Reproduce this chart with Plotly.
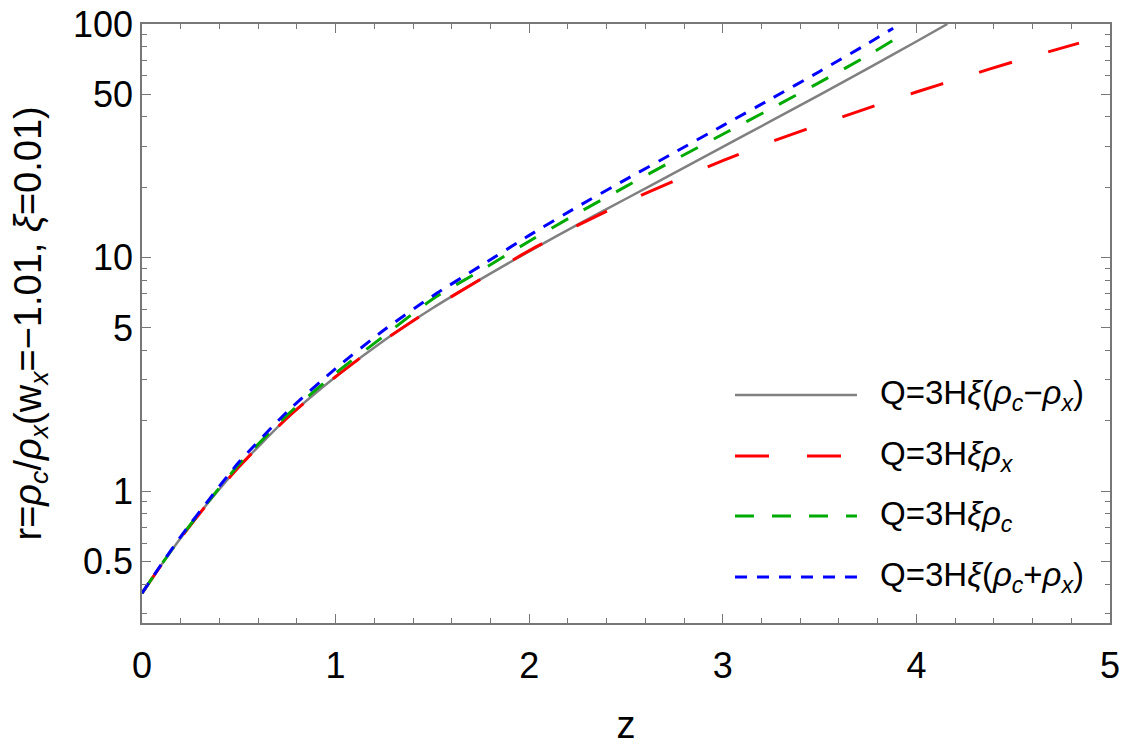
import plotly.graph_objects as go

# ---------------- data ----------------
z_gray = [0, 0.1, 0.2, 0.35, 0.5, 0.75, 1.0, 1.25, 1.5, 1.75, 2.0, 2.25, 2.5, 2.75, 3.0, 3.25, 3.5, 3.75, 4.0, 4.16]
r_gray = [0.366, 0.484, 0.631, 0.91, 1.27, 2.06, 3.09, 4.42, 6.07, 8.09, 10.64, 13.84, 17.86, 23.07, 29.79, 38.46, 49.77, 64.57, 84.14, 100]

z_red = [0, 0.1, 0.2, 0.35, 0.5, 0.75, 1.0, 1.25, 1.5, 1.75, 2.0, 2.25, 2.5, 2.75, 3.0, 3.25, 3.5, 3.75, 4.0, 4.25, 4.5, 4.84]
r_red = [0.366, 0.484, 0.631, 0.91, 1.27, 2.06, 3.09, 4.42, 6.07, 8.09, 10.72, 13.74, 17.30, 21.33, 26.0, 31.33, 37.07, 43.65, 51.17, 59.43, 68.87, 82.8]

z_green = [0, 0.1, 0.2, 0.35, 0.5, 0.75, 1.0, 1.25, 1.5, 1.75, 2.0, 2.25, 2.5, 2.75, 3.0, 3.25, 3.5, 3.75, 3.93]
r_green = [0.366, 0.485, 0.635, 0.92, 1.30, 2.12, 3.20, 4.62, 6.64, 8.81, 11.75, 15.49, 20.18, 26.18, 33.73, 43.45, 56.23, 73.45, 90.2]

z_blue = [0, 0.1, 0.2, 0.35, 0.5, 0.75, 1.0, 1.25, 1.5, 1.75, 2.0, 2.25, 2.5, 2.75, 3.0, 3.25, 3.5, 3.75, 3.88]
r_blue = [0.366, 0.487, 0.64, 0.93, 1.33, 2.19, 3.35, 4.90, 6.84, 9.23, 12.45, 16.52, 21.63, 28.18, 36.73, 47.86, 62.66, 82.6, 95.9]

legend_labels = [
    "Q=3H<i>ξ</i>(<i>ρ</i><sub><i>c</i></sub>−<i>ρ</i><sub><i>x</i></sub>)",
    "Q=3H<i>ξ</i><i>ρ</i><sub><i>x</i></sub>",
    "Q=3H<i>ξ</i><i>ρ</i><sub><i>c</i></sub>",
    "Q=3H<i>ξ</i>(<i>ρ</i><sub><i>c</i></sub>+<i>ρ</i><sub><i>x</i></sub>)",
]
x_ticks = [0, 1, 2, 3, 4, 5]
y_ticks = [0.5, 1, 5, 10, 50, 100]
y_ticktext = ["0.5", "1", "5", "10", "50", "100"]
y_minor = [0.3, 0.4, 0.6, 0.7, 0.8, 0.9, 2, 3, 4, 6, 7, 8, 9, 20, 30, 40, 60, 70, 80, 90]

series = [
    (z_gray, r_gray, "#808080", "solid", 2.5),
    (z_red, r_red, "#ff0000", "34px,38px", 3),
    (z_green, r_green, "#00aa00", "19px,18px", 3),
    (z_blue, r_blue, "#0000ff", "12px,10px", 3),
]

fig = go.Figure()
for (zz, rr, col, dash, w), name in zip(series, legend_labels):
    fig.add_trace(go.Scatter(x=zz, y=rr, mode="lines", name=name,
                             line=dict(color=col, dash=dash, width=w, shape="spline", smoothing=0.6),
                             showlegend=False))

FONT = "Liberation Sans, Arial, sans-serif"
AX = "#777777"

# custom legend (long line samples as in the reference)
leg_rows = [0.3806, 0.2788, 0.1786, 0.0768]
for (zz, rr, col, dash, w), name, yy in zip(series, legend_labels, leg_rows):
    fig.add_shape(type="line", xref="paper", yref="paper", x0=0.6126, x1=0.7386, y0=yy, y1=yy,
                  line=dict(color=col, dash=dash, width=w))
    fig.add_annotation(xref="paper", yref="paper", x=0.7603, y=yy, xanchor="left", yanchor="middle",
                       text=name, showarrow=False, font=dict(family=FONT, size=33, color="black"))

fig.add_annotation(xref="paper", yref="paper", x=0, y=0.5, xshift=-112, xanchor="center", yanchor="middle",
                   textangle=-90, showarrow=False,
                   text="r=<i>ρ</i><sub><i>c</i></sub>/<i>ρ</i><sub><i>x</i></sub>(w<sub><i>x</i></sub>=−1.01, <i>ξ</i>=0.01)",
                   font=dict(family=FONT, size=38, color="black"))

fig.update_layout(
    width=1125, height=746, autosize=False,
    margin=dict(l=142, r=15, t=24, b=123),
    paper_bgcolor="white", plot_bgcolor="white",
    font=dict(family=FONT, color="black"),
)
fig.update_xaxes(
    range=[0, 5], tickvals=x_ticks, ticks="inside", ticklen=9, tickwidth=1.2, tickcolor=AX,
    showline=True, linecolor=AX, linewidth=1.5, mirror="allticks", showgrid=False, zeroline=False,
    automargin=False, ticklabelstandoff=10,
    tickfont=dict(family=FONT, size=36, color="black"),
    minor=dict(dtick=0.2, ticks="inside", ticklen=5, tickcolor=AX, tickwidth=1, showgrid=False),
    title=dict(text="z", font=dict(family=FONT, size=38, color="black"), standoff=32),
)
fig.update_yaxes(
    type="log", range=[-0.564, 2], tickvals=y_ticks, ticktext=y_ticktext,
    ticks="inside", ticklen=9, tickwidth=1.2, tickcolor=AX,
    showline=True, linecolor=AX, linewidth=1.5, mirror="allticks", showgrid=False, zeroline=False,
    automargin=False,
    tickfont=dict(family=FONT, size=36, color="black"),
    minor=dict(tickmode="array", tickvals=y_minor, ticks="inside", ticklen=5, tickcolor=AX, tickwidth=1, showgrid=False),
)

fig.write_html("out.html")
